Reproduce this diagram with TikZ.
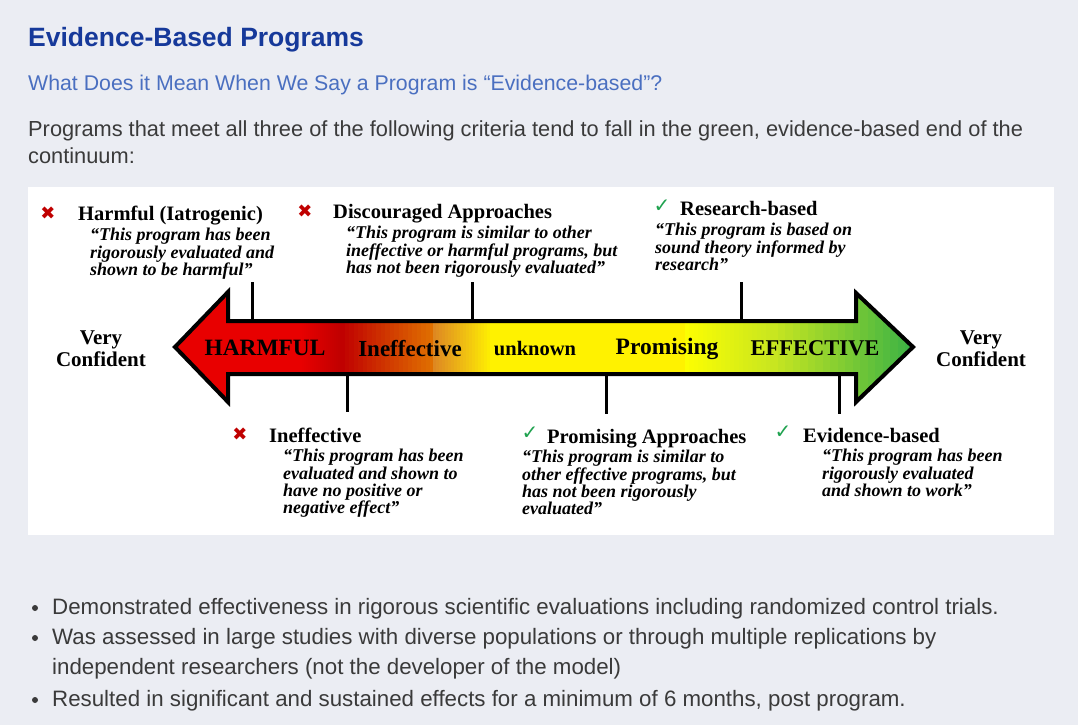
\documentclass[tikz,border=0pt]{standalone}
\usepackage{fontspec}
\setmainfont{Liberation Sans}
\newfontfamily\diagfont{Liberation Serif}
\newfontfamily\symfont{DejaVu Sans}
\usetikzlibrary{positioning}

\definecolor{pagebg}{HTML}{EBEDF3}
\definecolor{headblue}{HTML}{16399A}
\definecolor{subblue}{HTML}{4A6FC0}
\definecolor{bodytext}{HTML}{3A3A3A}
\definecolor{xred}{HTML}{C00000}
\definecolor{okgreen}{HTML}{1FA24F}
\definecolor{harmred}{HTML}{E80000}
\definecolor{darkred}{HTML}{C00000}
\definecolor{midorange}{HTML}{E07000}
\definecolor{lightgreen}{HTML}{C8E620}
\definecolor{effgreen}{HTML}{2EAE48}

\tikzset{
  body/.style = {anchor=base west, inner sep=0pt, text=bodytext, font=\fontsize{22.3}{24}\selectfont},
  crit/.style = {anchor=base west, inner sep=0pt, font=\diagfont\bfseries\fontsize{20.5}{22}\selectfont},
  quote/.style = {anchor=north west, inner sep=0pt, align=left,
    font=\diagfont\bfseries\itshape\fontsize{18}{17.4}\selectfont},
  inarrow/.style = {inner sep=0pt, font=\diagfont\bfseries},
  conf/.style = {align=center, inner sep=0pt, font=\diagfont\bfseries\fontsize{21}{22}\selectfont},
  nomark/.style = {inner sep=0pt, text=xred, font=\symfont\bfseries\fontsize{18}{18}\selectfont},
  okmark/.style = {inner sep=0pt, text=okgreen, font=\symfont\bfseries\fontsize{20}{20}\selectfont},
  tick/.style = {line width=3pt}
}

\begin{document}
\begin{tikzpicture}[x=1pt, y=-1pt]

\fill[pagebg] (0,0) rectangle (1078,725);
\useasboundingbox (0,0) rectangle (1078,725);
\fill[white] (28,187) rectangle (1054,535);

% page text
\node[anchor=base west, inner sep=0pt, text=headblue,
  font=\bfseries\fontsize{26.5}{30}\selectfont] (title) at (28,47) {Evidence-Based Programs};
\node[anchor=base west, inner sep=0pt, text=subblue,
  font=\fontsize{21.3}{24}\selectfont] (subtitle) at (28,90)
  {What Does it Mean When We Say a Program is “Evidence-based”?};
\node[body, font=\fontsize{21.8}{24}\selectfont] (intro1) at (28,136) {Programs that meet all three of the following criteria tend to fall in the green, evidence-based end of the};
\node[body, font=\fontsize{21.8}{24}\selectfont] (intro2) at (28,163) {continuum:};

% the continuum arrow
\begin{scope}
  \clip (175,347) -- (228,292) -- (228,321) -- (856,321) -- (856,293) -- (913,347)
    -- (856,402) -- (856,374) -- (228,374) -- (228,402) -- cycle;
  \foreach \xa/\xb/\ca/\cb in {170/300/harmred/harmred, 300/340/harmred/darkred,
      340/430/darkred/midorange, 430/490/midorange/yellow, 490/680/yellow/yellow,
      680/770/yellow/lightgreen, 770/920/lightgreen/effgreen} {
    \foreach \i in {0,...,19} {
      \pgfmathsetmacro\share{5*\i}
      \pgfmathsetmacro\left{\xa+(\xb-\xa)*\i/20}
      \pgfmathsetmacro\right{\xa+(\xb-\xa)*(\i+1)/20+1}
      \fill[\cb!\share!\ca] (\left,280) rectangle (\right,410);
    }
  }
\end{scope}
\draw[line width=4pt, line join=miter]
  (175,347) -- (228,292) -- (228,321) -- (856,321) -- (856,293) -- (913,347)
  -- (856,402) -- (856,374) -- (228,374) -- (228,402) -- cycle;

\node[inarrow, font=\diagfont\bfseries\fontsize{23.4}{23}\selectfont] (harmful) at (265,348) {HARMFUL};
\node[inarrow, font=\diagfont\bfseries\fontsize{23}{23}\selectfont] (ineff) at (410,349) {Ineffective};
\node[inarrow, font=\diagfont\bfseries\fontsize{20.5}{20}\selectfont] (unknown) at (535,349) {unknown};
\node[inarrow, font=\diagfont\bfseries\fontsize{23.5}{23}\selectfont] (promis) at (667,349) {Promising};
\node[inarrow, font=\diagfont\bfseries\fontsize{22.5}{22}\selectfont] (effective) at (815,348) {EFFECTIVE};

\node[conf] (confleft) at (101,349) {Very\\Confident};
\node[conf] (confright) at (981,349) {Very\\Confident};

% criteria above the arrow
\node[nomark] (xharm) at (48,213) {✖};
\node[crit] (harmtitle) at (78,220) {Harmful (Iatrogenic)};
\node[quote] (harmquote) at (90,228) {“This program has been\\rigorously evaluated and\\shown to be harmful”};

\node[nomark] (xdisc) at (305,211) {✖};
\node[crit] (disctitle) at (333,218) {Discouraged Approaches};
\node[quote] (discquote) at (346,226) {“This program is similar to other\\ineffective or harmful programs, but\\has not been rigorously evaluated”};

\node[okmark] (okres) at (662,206) {✓};
\node[crit] (restitle) at (680,215) {Research-based};
\node[quote] (resquote) at (655,223) {“This program is based on\\sound theory informed by\\research”};

% criteria below the arrow
\node[nomark] (xineff) at (240,434) {✖};
\node[crit] (innefftitle) at (269,442) {Ineffective};
\node[quote] (ineffquote) at (283,449) {“This program has been\\evaluated and shown to\\have no positive or\\negative effect”};

\node[okmark] (okprom) at (530,433) {✓};
\node[crit] (promtitle) at (547,443) {Promising Approaches};
\node[quote] (promquote) at (522,450) {“This program is similar to\\other effective programs, but\\has not been rigorously\\evaluated”};

\node[okmark] (okevid) at (783,432) {✓};
\node[crit] (evidtitle) at (803,442) {Evidence-based};
\node[quote] (evidquote) at (822,449) {“This program has been\\rigorously evaluated\\and shown to work”};

% ticks between arrow and criteria
\foreach \name/\xpos/\ytop/\ybot in {th/252/282/321, td/472/282/321, tr/741/282/321,
                                     bi/347/374/412, bp/606/374/414, be/839/374/414} {
  \coordinate (\name-a) at (\xpos,\ytop);
  \coordinate (\name-b) at (\xpos,\ybot);
  \draw[tick] (\name-a) -- (\name-b);
}

% bullet list
\foreach \ypos/\name/\txt in {
  614/b1/{Demonstrated effectiveness in rigorous scientific evaluations including randomized control trials.},
  644/b2/{Was assessed in large studies with diverse populations or through multiple replications by},
  706/b3/{Resulted in significant and sustained effects for a minimum of 6 months, post program.}} {
  \fill[bodytext] (35,\ypos-6) circle (3);
  \node[body] (\name) at (52,\ypos) {\txt};
}
\node[body] (b2cont) at (52,674) {independent researchers (not the developer of the model)};

\end{tikzpicture}
\end{document}
